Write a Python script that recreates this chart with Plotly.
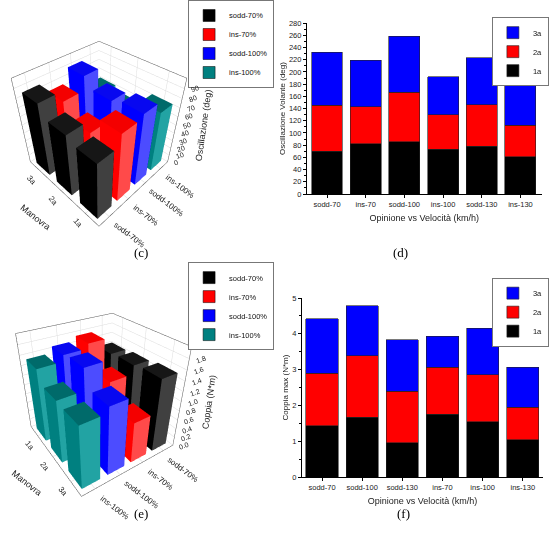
import math
import plotly.graph_objects as go

# ---------------- data ----------------
# (d) Oscillazione Volante (deg), stacked by manovra
osc_categories = ["sodd-70", "ins-70", "sodd-100", "ins-100", "sodd-130", "ins-130"]
osc_1a = [70, 82, 86, 73, 78, 61]
osc_2a = [75, 61, 81, 57, 68, 52]
osc_3a = [87, 76, 91, 62, 77, 66]
osc_yticks = list(range(0, 281, 20))

# (f) Coppia max (N*m), stacked by manovra
cop_categories = ["sodd-70", "sodd-100", "sodd-130", "ins-70", "ins-100", "ins-130"]
cop_1a = [1.43, 1.67, 0.96, 1.76, 1.55, 1.04]
cop_2a = [1.47, 1.72, 1.44, 1.30, 1.31, 0.91]
cop_3a = [1.52, 1.40, 1.43, 0.87, 1.29, 1.11]
cop_yticks = [0, 1, 2, 3, 4, 5]

# (c) 3D Oscillazione (deg): values for manovra 1a, 2a, 3a
manovre = ["1a", "2a", "3a"]
c_conditions = ["sodd-70%", "ins-70%", "sodd-100%", "ins-100%"]
c_sodd70 = [70, 75, 87]
c_ins70 = [82, 61, 76]
c_sodd100 = [86, 81, 91]
c_ins100 = [73, 57, 62]
c_zticks = [0, 10, 20, 30, 40, 50, 60, 70, 80, 90]

# (e) 3D Coppia (N*m): values for manovra 1a, 2a, 3a
e_conditions = ["ins-100%", "sodd-100%", "ins-70%", "sodd-70%"]  # front -> back
e_manovre = ["3a", "2a", "1a"]  # front -> back
e_sodd70 = [1.43, 1.47, 1.52]
e_ins70 = [1.76, 1.30, 0.87]
e_sodd100 = [1.67, 1.72, 1.40]
e_ins100 = [1.55, 1.31, 1.29]
e_zticks = [0.0, 0.2, 0.4, 0.6, 0.8, 1.0, 1.2, 1.4, 1.6, 1.8]

# ---------------- styles ----------------
FONT = "Liberation Sans"
SERIES_COL = {
    "sodd-70%": "#000000",
    "ins-70%": "#ff0000",
    "sodd-100%": "#0000ff",
    "ins-100%": "#008080",
}
# (top, left face, right face)
FACE_COL = {
    "sodd-70%": ("#161616", "#000000", "#404040"),
    "ins-70%": ("#f40000", "#ff0000", "#ff4a4a"),
    "sodd-100%": ("#0808f0", "#0000ff", "#4c4cff"),
    "ins-100%": ("#006a6a", "#008080", "#22a3a3"),
}
BW_X = 0.70
BW_Y = 0.66
X_RANGE = [-0.5, 3.5]
Y_RANGE = [-0.5, 2.5]


def bars_mesh(xidx, heights, faces, scene, name):
    xs, ys, zs, ii, jj, kk, fc = [], [], [], [], [], [], []
    top, left, right = faces
    for yidx, h in enumerate(heights):
        x0, x1 = xidx - BW_X / 2, xidx + BW_X / 2
        y0, y1 = yidx - BW_Y / 2, yidx + BW_Y / 2
        b = len(xs)
        for (px, py, pz) in [(x0, y0, 0), (x1, y0, 0), (x1, y1, 0), (x0, y1, 0),
                             (x0, y0, h), (x1, y0, h), (x1, y1, h), (x0, y1, h)]:
            xs.append(px); ys.append(py); zs.append(pz)
        tris = [((0, 1, 2), left), ((0, 2, 3), left),
                ((4, 5, 6), top), ((4, 6, 7), top),
                ((0, 1, 5), right), ((0, 5, 4), right),
                ((3, 2, 6), right), ((3, 6, 7), right),
                ((0, 3, 7), left), ((0, 7, 4), left),
                ((1, 2, 6), left), ((1, 6, 5), left)]
        for (a, bb, c), col in tris:
            ii.append(b + a); jj.append(b + bb); kk.append(b + c); fc.append(col)
    return go.Mesh3d(x=xs, y=ys, z=zs, i=ii, j=jj, k=kk, facecolor=fc,
                     flatshading=True, scene=scene, name=name, showlegend=False,
                     hoverinfo="skip",
                     lighting=dict(ambient=1, diffuse=0, specular=0, roughness=1, fresnel=0))


def scene_labels(cat_labels, man_labels, zticks, zfmt, ztitle, ztop):
    """Axis labels anchored at the scene's own data coordinates (box edges), shifted in pixels."""
    anns = []
    f8 = dict(size=8, family=FONT, color="#222")
    f7 = dict(size=7, family=FONT, color="#222")
    for i, t in enumerate(cat_labels):
        half = 4 + 2.2 * len(t)
        anns.append(dict(x=i, y=Y_RANGE[0], z=0, text=t, textangle=37,
                         showarrow=False, font=f8,
                         xshift=half * 0.8 + 2, yshift=-(half * 0.6 + 5)))
    for j, t in enumerate(man_labels):
        anns.append(dict(x=X_RANGE[0], y=j, z=0, text=t, textangle=50,
                         showarrow=False, font=f8, xshift=-8, yshift=-9))
    anns.append(dict(x=X_RANGE[0], y=1, z=0, text="Manovra", textangle=38,
                     showarrow=False, font=dict(size=9, family=FONT, color="#222"),
                     xshift=-26, yshift=-26))
    for t in zticks:
        anns.append(dict(x=X_RANGE[1], y=Y_RANGE[0], z=t, text=format(t, zfmt),
                         textangle=-20, showarrow=False, xanchor="left", font=f7, xshift=3))
    anns.append(dict(x=X_RANGE[1], y=Y_RANGE[0], z=ztop / 2, text=ztitle,
                     textangle=-82, showarrow=False, font=dict(size=9, family=FONT, color="#222"),
                     xshift=28))
    return anns


fig = go.Figure()

# ---- (c) 3D ----
c_series = {"sodd-70%": c_sodd70, "ins-70%": c_ins70, "sodd-100%": c_sodd100, "ins-100%": c_ins100}
for xi, cond in enumerate(c_conditions):
    fig.add_trace(bars_mesh(xi, c_series[cond], FACE_COL[cond], "scene", cond))

# ---- (e) 3D ----
e_series = {"sodd-70%": e_sodd70, "ins-70%": e_ins70, "sodd-100%": e_sodd100, "ins-100%": e_ins100}
for xi, cond in enumerate(e_conditions):
    vals = e_series[cond]  # order 1a,2a,3a
    ordered = [vals[manovre.index(m)] for m in e_manovre]
    fig.add_trace(bars_mesh(xi, ordered, FACE_COL[cond], "scene2", cond))

# legend entries for 3D panels
for cond in ["sodd-70%", "ins-70%", "sodd-100%", "ins-100%"]:
    for lg in ["legend", "legend3"]:
        fig.add_trace(go.Bar(x=[None], y=[None], name=cond, xaxis="x3", yaxis="y3",
                             marker=dict(color=SERIES_COL[cond], line=dict(color="#000", width=0.5)),
                             legend=lg))

# ---- (d) stacked ----
for name, vals, col in [("1a", osc_1a, "#000000"), ("2a", osc_2a, "#ff0000"), ("3a", osc_3a, "#0000ff")]:
    fig.add_trace(go.Bar(x=osc_categories, y=vals, name=name, width=0.8,
                         marker=dict(color=col, line=dict(color="#222", width=0.6)),
                         xaxis="x", yaxis="y", legend="legend2"))

# ---- (f) stacked ----
for name, vals, col in [("1a", cop_1a, "#000000"), ("2a", cop_2a, "#ff0000"), ("3a", cop_3a, "#0000ff")]:
    fig.add_trace(go.Bar(x=cop_categories, y=vals, name=name, width=0.8,
                         marker=dict(color=col, line=dict(color="#222", width=0.6)),
                         xaxis="x2", yaxis="y2", legend="legend4"))

ax3d = dict(showbackground=False, showgrid=True, gridcolor="#dcdcdc", gridwidth=1,
            showline=True, linecolor="#555555", linewidth=1, mirror=True,
            zeroline=False, showspikes=False, ticks="", showticklabels=False,
            title=dict(text=""))


def r(e_deg, az_deg, dist):
    e = math.radians(e_deg); a = math.radians(az_deg)
    return dict(x=-dist * math.cos(e) * math.cos(a), y=-dist * math.cos(e) * math.sin(a),
                z=dist * math.sin(e))


scene_c = dict(
    domain=dict(x=[0.0, 0.36], y=[0.57, 1.0]),
    xaxis=dict(ax3d, range=X_RANGE, tickvals=list(range(4))),
    yaxis=dict(ax3d, range=Y_RANGE, tickvals=list(range(3))),
    zaxis=dict(ax3d, range=[0, 100], tickvals=c_zticks),
    aspectmode="manual", aspectratio=dict(x=1, y=1, z=1),
    camera=dict(eye=r(41, 45, 2.55), up=dict(x=0, y=0, z=1), center=dict(x=0, y=0, z=0.12)),
    bgcolor="white",
    annotations=scene_labels(c_conditions, manovre, c_zticks, "d", "Oscillazione (deg)", 100),
)
scene_e = dict(
    domain=dict(x=[0.0, 0.36], y=[0.06, 0.49]),
    xaxis=dict(ax3d, range=X_RANGE, tickvals=list(range(4))),
    yaxis=dict(ax3d, range=Y_RANGE, tickvals=list(range(3))),
    zaxis=dict(ax3d, range=[0, 2.0], tickvals=e_zticks),
    aspectmode="manual", aspectratio=dict(x=1, y=1, z=1),
    camera=dict(eye=r(33, 56, 2.46), up=dict(x=0, y=0, z=1), center=dict(x=0, y=0, z=0.05)),
    bgcolor="white",
    annotations=scene_labels(e_conditions, e_manovre, e_zticks, ".1f", "Coppia (N*m)", 2.0),
)

ax2d = dict(showline=True, linecolor="#000", linewidth=1, ticks="outside", ticklen=3,
            tickcolor="#000", tickfont=dict(size=7.5, family=FONT, color="#222"),
            showgrid=False, zeroline=False, fixedrange=True)

legend_common = dict(bgcolor="white", bordercolor="#777", borderwidth=1,
                     font=dict(size=7.5, family=FONT, color="#111"),
                     yanchor="top", tracegroupgap=0, itemwidth=30)

fig.update_layout(
    width=550, height=536, margin=dict(l=0, r=0, t=0, b=0, autoexpand=False),
    paper_bgcolor="white", plot_bgcolor="white",
    font=dict(family=FONT, size=8, color="#222"),
    barmode="stack", bargap=0.2,
    scene=scene_c, scene2=scene_e,
    xaxis=dict(ax2d, domain=[0.558, 0.985], anchor="y", range=[-0.52, 5.55],
               title=dict(text="Opinione vs Velocità (km/h)", font=dict(size=9, family=FONT), standoff=6)),
    yaxis=dict(ax2d, domain=[0.638, 0.957], anchor="x", range=[0, 280], tickvals=osc_yticks,
               minor=dict(ticks="outside", ticklen=2, dtick=10, tickcolor="#000"),
               title=dict(text="Oscillazione Volante (deg)", font=dict(size=8, family=FONT), standoff=2)),
    xaxis2=dict(ax2d, domain=[0.549, 0.987], anchor="y2", range=[-0.5, 5.5],
                title=dict(text="Opinione vs Velocità (km/h)", font=dict(size=9, family=FONT), standoff=6)),
    yaxis2=dict(ax2d, domain=[0.110, 0.444], anchor="x2", range=[0, 5], tickvals=cop_yticks,
                minor=dict(ticks="outside", ticklen=2, dtick=0.5, tickcolor="#000"),
                title=dict(text="Coppia max (N*m)", font=dict(size=8, family=FONT), standoff=2)),
    xaxis3=dict(visible=False, domain=[0.0, 0.01], anchor="y3"),
    yaxis3=dict(visible=False, domain=[0.0, 0.01], anchor="x3"),
    legend=dict(legend_common, x=0.342, y=1.0, xanchor="left", traceorder="normal"),
    legend2=dict(legend_common, x=0.998, y=0.968, xanchor="right", traceorder="reversed"),
    legend3=dict(legend_common, x=0.342, y=0.511, xanchor="left", traceorder="normal"),
    legend4=dict(legend_common, x=0.998, y=0.482, xanchor="right", traceorder="reversed"),
    showlegend=True,
    annotations=[
        dict(text="(c)", x=132 / 550, y=1 - 252 / 536, xref="paper", yref="paper", showarrow=False,
             font=dict(size=13, family="Liberation Serif", color="#000")),
        dict(text="(d)", x=410 / 550, y=1 - 252 / 536, xref="paper", yref="paper", showarrow=False,
             font=dict(size=13, family="Liberation Serif", color="#000")),
        dict(text="(e)", x=132 / 550, y=1 - 523 / 536, xref="paper", yref="paper", showarrow=False,
             font=dict(size=13, family="Liberation Serif", color="#000")),
        dict(text="(f)", x=412 / 550, y=1 - 523 / 536, xref="paper", yref="paper", showarrow=False,
             font=dict(size=13, family="Liberation Serif", color="#000")),
    ],
)

fig.write_html("out.html", config={"displayModeBar": False},
               post_script="document.body.style.margin='0px';")
